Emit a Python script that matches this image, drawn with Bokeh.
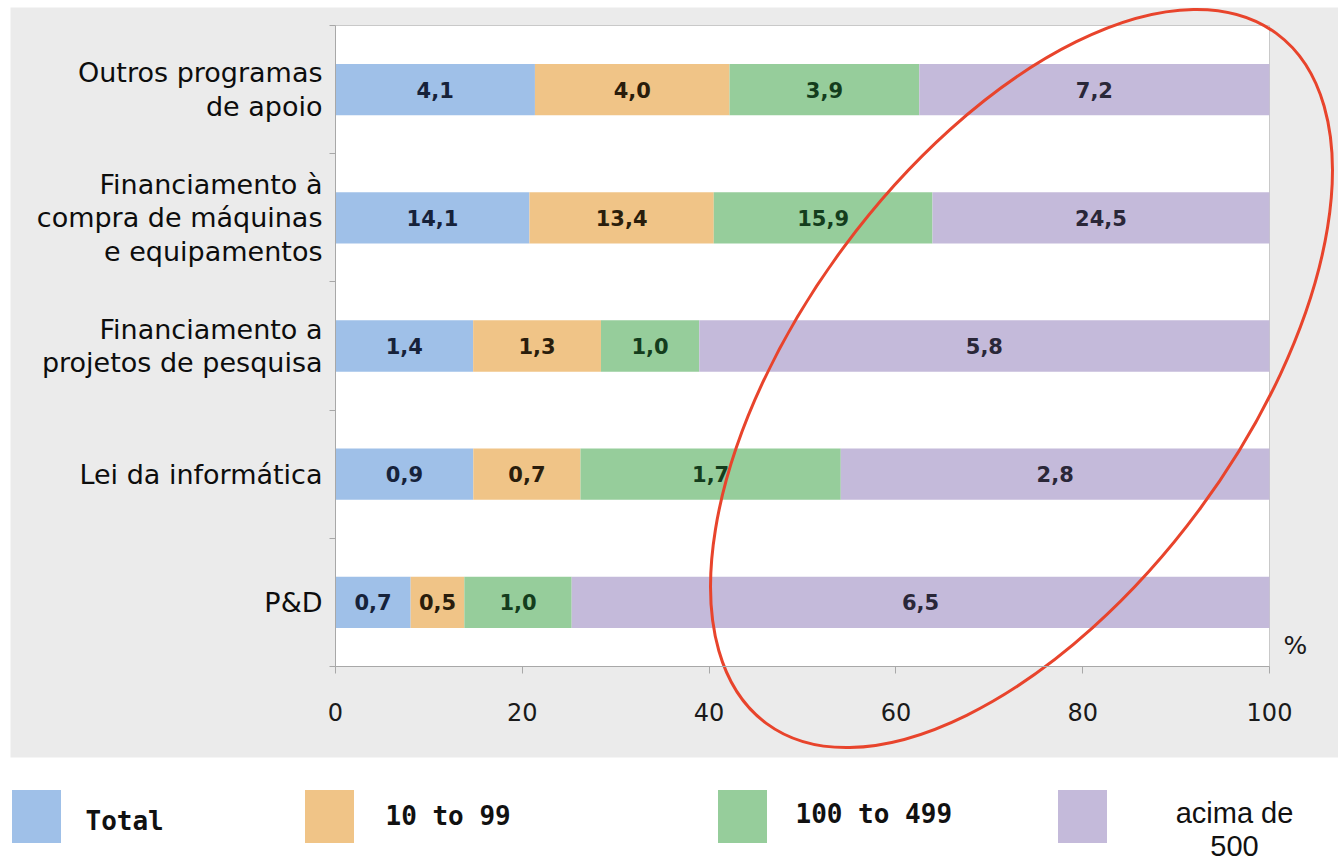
import numpy as np
from bokeh.plotting import figure
from bokeh.models import Range1d, FixedTicker, ColumnDataSource
from bokeh.core.properties import value
from bokeh.embed import file_html
from bokeh.resources import INLINE

# ---------------- data ----------------
categories = [
    "Outros programas\nde apoio",
    "Financiamento à\ncompra de máquinas\ne equipamentos",
    "Financiamento a\nprojetos de pesquisa",
    "Lei da informática",
    "P&D",
]
total = [4.1, 14.1, 1.4, 0.9, 0.7]
size_10_99 = [4.0, 13.4, 1.3, 0.7, 0.5]
size_100_499 = [3.9, 15.9, 1.0, 1.7, 1.0]
size_500_plus = [7.2, 24.5, 5.8, 2.8, 6.5]
series_names = ["Total", "10 to 99", "100 to 499", "acima de\n500"]
x_ticks = [0, 20, 40, 60, 80, 100]

# ---------------- styles / layout (pixels) ----------------
colors = ["#9fc0e8", "#f0c487", "#96cd9b", "#c4bada"]
text_colors = ["#16223a", "#2a1d0c", "#143d1d", "#2a2738"]
GRAY_BG = "#ebebeb"
AXIS_GRAY = "#a8a8a8"
W, H = 1338, 867
PLOT_L, PLOT_R, PLOT_T, PLOT_B = 335, 1269, 25, 666      # white plot panel
PANEL_L, PANEL_T, PANEL_B = 10, 7, 757                     # grey panel

series = [total, size_10_99, size_100_499, size_500_plus]
n = len(categories)
ypos = [n - i for i in range(n)]
sums = [sum(s[i] for s in series) for i in range(n)]

X0, X1 = 0.0, 100.0
Y0, Y1 = 0.5, n + 0.5
sx = (PLOT_R - PLOT_L) / (X1 - X0)
sy = (PLOT_B - PLOT_T) / (Y1 - Y0)


def px_x(px):
    return X0 + (px - PLOT_L) / sx


def px_y(py):
    return Y1 - (py - PLOT_T) / sy


p = figure(
    width=W, height=H,
    x_range=Range1d(px_x(0), px_x(W)), y_range=Range1d(px_y(H), px_y(0)),
    output_backend="svg", toolbar_location=None, min_border=0,
    border_fill_color="white", background_fill_color="white",
    outline_line_color=None,
)
p.grid.visible = False

# grey panel and white plot area
p.quad(left=[px_x(PANEL_L)], right=[px_x(W)], top=[px_y(PANEL_T)],
       bottom=[px_y(PANEL_B)], fill_color=GRAY_BG, line_color=None)
p.quad(left=[X0], right=[X1], top=[Y1], bottom=[Y0], fill_color="white",
       line_color="#c9c9c9", line_width=1)

cum = [0.0] * n
for s, col, tcol in zip(series, colors, text_colors):
    pct = [100.0 * s[i] / sums[i] for i in range(n)]
    left = cum[:]
    right = [cum[i] + pct[i] for i in range(n)]
    cum = right
    src = ColumnDataSource(dict(
        y=ypos, left=left, right=right,
        mid=[(l + r) / 2 for l, r in zip(left, right)],
        label=[f"{v:.1f}".replace(".", ",") for v in s],
    ))
    p.hbar(y="y", left="left", right="right", height=0.4, source=src,
           fill_color=col, line_color=None)
    p.text(x="mid", y="y", text="label", source=src,
           text_align="center", text_baseline="middle",
           text_font=value("DejaVu Sans"), text_font_style="bold",
           text_font_size="21px", text_color=tcol)

# x axis (fixed at the bottom of the plot panel)
xa = p.xaxis[0]
xa.fixed_location = Y0
xa.bounds = (X0, X1)
xa.ticker = FixedTicker(ticks=x_ticks)
xa.minor_tick_line_color = None
xa.major_tick_in = 0
xa.major_tick_out = 7
xa.major_tick_line_color = AXIS_GRAY
xa.axis_line_color = AXIS_GRAY
xa.major_label_text_font = "DejaVu Sans"
xa.major_label_text_font_size = "24px"
xa.major_label_text_color = "#1a1a1a"
xa.major_label_standoff = 29

# y axis (fixed at x = 0)
ya = p.yaxis[0]
ya.fixed_location = X0
ya.bounds = (Y0, Y1)
ya.ticker = FixedTicker(ticks=ypos, minor_ticks=[k + 0.5 for k in range(n + 1)])
ya.major_tick_in = 0
ya.major_tick_out = 0
ya.major_tick_line_color = None
ya.minor_tick_in = 0
ya.minor_tick_out = 6
ya.minor_tick_line_color = AXIS_GRAY
ya.axis_line_color = AXIS_GRAY
ya.major_label_overrides = {y: c for y, c in zip(ypos, categories)}
ya.major_label_text_font = "DejaVu Sans"
ya.major_label_text_font_size = "27px"
ya.major_label_text_color = "#0d0d0d"
ya.major_label_text_line_height = 1.08
ya.major_label_standoff = 7

# unit mark
p.text(x=[px_x(1283)], y=[px_y(645)], text=["%"], text_align="left",
       text_baseline="middle", text_font=value("DejaVu Sans"),
       text_font_size="25px", text_color="#1a1a1a")

# red highlight ellipse
p.ellipse(x=[px_x(1021)], y=[px_y(378)], width=[858], height=[442],
          angle=[np.deg2rad(53.5)], width_units="screen",
          height_units="screen", fill_alpha=0, line_color="#e8442c",
          line_width=3)

# ---------------- legend ----------------
sq_cx = [36, 329, 742, 1082]
p.rect(x=[px_x(c) for c in sq_cx], y=[px_y(816)] * 4, width=49, height=53,
       width_units="screen", height_units="screen", fill_color=colors,
       line_color=None)
p.text(x=[px_x(c) for c in [85, 385, 795]],
       y=[px_y(c) for c in [820, 815, 813]], text=series_names[:3],
       text_align="left", text_baseline="middle",
       text_font=value("DejaVu Sans Mono"), text_font_style="bold",
       text_font_size="26px", text_color="#111111")
p.text(x=[px_x(1234)], y=[px_y(829)], text=[series_names[3]],
       text_align="center", text_baseline="middle",
       text_font=value("Liberation Sans"), text_font_size="29px",
       text_line_height=1.02, text_color="#111111")

open("out.html", "w").write(file_html(p, INLINE))
